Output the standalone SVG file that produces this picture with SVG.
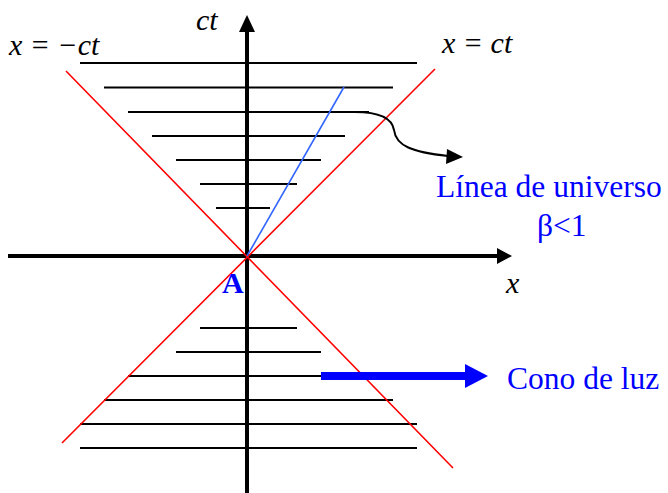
<svg xmlns="http://www.w3.org/2000/svg" width="668" height="493" viewBox="0 0 668 493">
<style>
.grid{stroke:#000;stroke-width:2;fill:none}
.axis{stroke:#000;stroke-width:4;fill:none}
.cone{stroke:#ff0000;stroke-width:1.6;fill:none}
.wl{stroke:#3366ff;stroke-width:1.6;fill:none}
text{font-family:'Liberation Serif','DejaVu Serif',serif}
.it{font-style:italic;font-size:30px;fill:#000}
.bl{font-size:31.5px;fill:#0000ff}
</style>
<rect width="668" height="493" fill="#fff"/>
<g id="grid-lines">
<path class="grid" d="M80 63H417M104 87.5H393M128 112H369M152 136H345M176 160H321M200 184H297M216 208H270"/>
<path class="grid" d="M200 328H297M176 352H321M128 376H321M104 400H393M80 424H417M80 448H417"/>
</g>
<g id="axes">
<path class="axis" d="M8 256H498"/>
<polygon points="512,256 497,248 497,264" fill="#000"/>
<path class="axis" d="M247 493V30"/>
<polygon points="247,15 239,32 255,32" fill="#000"/>
</g>
<g id="light-cone">
<path class="cone" d="M66 71L453 468M435 69L62 443"/>
</g>
<g id="world-line">
<path class="wl" d="M247 256L344 87"/>
</g>
<g id="connectors">
<path d="M355 112C380 112 392 118 394 130C396 146 412 152 448 156" stroke="#000" stroke-width="2" fill="none"/>
<polygon points="463,157 447,149 446,164" fill="#000"/>
<path d="M321 376H466" stroke="#0000ff" stroke-width="8" fill="none"/>
<polygon points="488,376 465,364 465,388" fill="#0000ff"/>
</g>
<g id="labels">
<text class="it" font-family="Liberation Serif" x="196" y="30">ct</text>
<text class="it" font-family="Liberation Serif" x="9" y="55">x = −ct</text>
<text class="it" font-family="Liberation Serif" x="442" y="53">x = ct</text>
<text class="it" font-family="Liberation Serif" x="506" y="293">x</text>
<text x="222" y="293" font-family="Liberation Serif" font-weight="bold" font-size="30" fill="#0000ff">A</text>
<text class="bl" font-family="Liberation Serif" x="436" y="197">Línea de universo</text>
<text class="bl" font-family="Liberation Serif" x="537" y="236">β&lt;1</text>
<text class="bl" font-family="Liberation Serif" x="507" y="389">Cono de luz</text>
</g>
</svg>
